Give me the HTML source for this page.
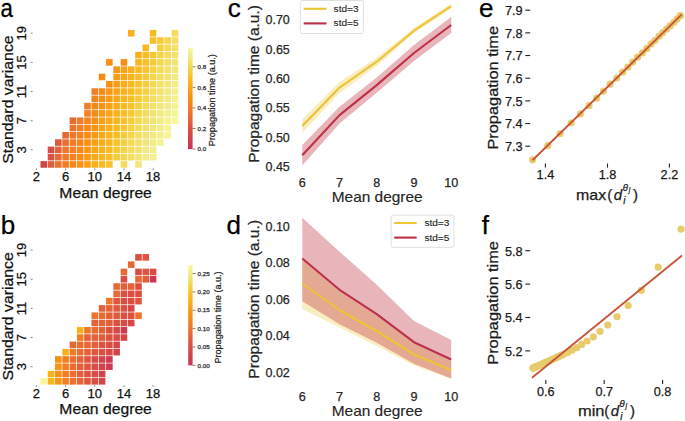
<!DOCTYPE html>
<html><head><meta charset="utf-8"><style>
html,body{margin:0;padding:0;background:#fff;}
svg{display:block;font-family:"Liberation Sans", sans-serif;}
text{stroke:currentColor;stroke-width:0.25px;}
</style></head><body>
<svg width="685" height="421" viewBox="0 0 685 421">
<rect width="685" height="421" fill="#fff"/>
<text x="0.8" y="233.7" font-size="26" text-anchor="start" fill="#000" color="#000">b</text>
<text x="227.7" y="17.4" font-size="26" text-anchor="start" fill="#000" color="#000">c</text>
<text x="226.6" y="233.6" font-size="26" text-anchor="start" fill="#000" color="#000">d</text>
<text x="479" y="17.2" font-size="26" text-anchor="start" fill="#000" color="#000">e</text>
<text x="481.8" y="233.5" font-size="26" text-anchor="start" fill="#000" color="#000">f</text>
<text x="0" y="0" font-size="26" fill="#000" color="#000" transform="translate(0.6 17.0) scale(0.86 1)">a</text>
<rect x="40.45" y="161.15" width="6.59" height="6.59" fill="#d54548"/>
<rect x="47.73" y="161.15" width="6.59" height="6.59" fill="#e25d3a"/>
<rect x="55.03" y="161.15" width="6.59" height="6.59" fill="#eb712e"/>
<rect x="62.31" y="161.15" width="6.59" height="6.59" fill="#f17e24"/>
<rect x="69.61" y="161.15" width="6.59" height="6.59" fill="#f5871a"/>
<rect x="76.89" y="161.15" width="6.59" height="6.59" fill="#f89313"/>
<rect x="84.19" y="161.15" width="6.59" height="6.59" fill="#faa115"/>
<rect x="91.48" y="161.15" width="6.59" height="6.59" fill="#faaf1b"/>
<rect x="98.77" y="161.15" width="6.59" height="6.59" fill="#f9ba21"/>
<rect x="106.06" y="161.15" width="6.59" height="6.59" fill="#f8c42d"/>
<rect x="120.64" y="161.15" width="6.59" height="6.59" fill="#f4db59"/>
<rect x="135.21" y="161.15" width="6.59" height="6.59" fill="#f1e77c"/>
<rect x="47.73" y="153.86" width="6.59" height="6.59" fill="#dd523f"/>
<rect x="55.03" y="153.86" width="6.59" height="6.59" fill="#e86933"/>
<rect x="62.31" y="153.86" width="6.59" height="6.59" fill="#ef7928"/>
<rect x="69.61" y="153.86" width="6.59" height="6.59" fill="#f3831e"/>
<rect x="76.89" y="153.86" width="6.59" height="6.59" fill="#f88d13"/>
<rect x="84.19" y="153.86" width="6.59" height="6.59" fill="#f99c14"/>
<rect x="91.48" y="153.86" width="6.59" height="6.59" fill="#faaa18"/>
<rect x="98.77" y="153.86" width="6.59" height="6.59" fill="#f9b61f"/>
<rect x="106.06" y="153.86" width="6.59" height="6.59" fill="#f8c028"/>
<rect x="113.34" y="153.86" width="6.59" height="6.59" fill="#f7cb39"/>
<rect x="120.64" y="153.86" width="6.59" height="6.59" fill="#f5d74e"/>
<rect x="127.92" y="153.86" width="6.59" height="6.59" fill="#f3df64"/>
<rect x="135.21" y="153.86" width="6.59" height="6.59" fill="#f2e576"/>
<rect x="142.50" y="153.86" width="6.59" height="6.59" fill="#f2eb86"/>
<rect x="149.79" y="153.86" width="6.59" height="6.59" fill="#f5f190"/>
<rect x="47.73" y="146.57" width="6.59" height="6.59" fill="#d84a45"/>
<rect x="55.03" y="146.57" width="6.59" height="6.59" fill="#e46238"/>
<rect x="62.31" y="146.57" width="6.59" height="6.59" fill="#ec742c"/>
<rect x="69.61" y="146.57" width="6.59" height="6.59" fill="#f28022"/>
<rect x="76.89" y="146.57" width="6.59" height="6.59" fill="#f68917"/>
<rect x="84.19" y="146.57" width="6.59" height="6.59" fill="#f99613"/>
<rect x="91.48" y="146.57" width="6.59" height="6.59" fill="#faa516"/>
<rect x="98.77" y="146.57" width="6.59" height="6.59" fill="#f9b11c"/>
<rect x="106.06" y="146.57" width="6.59" height="6.59" fill="#f9bc22"/>
<rect x="113.34" y="146.57" width="6.59" height="6.59" fill="#f7c632"/>
<rect x="120.64" y="146.57" width="6.59" height="6.59" fill="#f5d345"/>
<rect x="127.92" y="146.57" width="6.59" height="6.59" fill="#f4dc5e"/>
<rect x="135.21" y="146.57" width="6.59" height="6.59" fill="#f2e26f"/>
<rect x="142.50" y="146.57" width="6.59" height="6.59" fill="#f1e982"/>
<rect x="149.79" y="146.57" width="6.59" height="6.59" fill="#f4ef8c"/>
<rect x="55.03" y="139.28" width="6.59" height="6.59" fill="#e0593c"/>
<rect x="62.31" y="139.28" width="6.59" height="6.59" fill="#ea6e30"/>
<rect x="69.61" y="139.28" width="6.59" height="6.59" fill="#f07c26"/>
<rect x="76.89" y="139.28" width="6.59" height="6.59" fill="#f4861b"/>
<rect x="84.19" y="139.28" width="6.59" height="6.59" fill="#f89112"/>
<rect x="91.48" y="139.28" width="6.59" height="6.59" fill="#f99f15"/>
<rect x="98.77" y="139.28" width="6.59" height="6.59" fill="#faad1a"/>
<rect x="106.06" y="139.28" width="6.59" height="6.59" fill="#f9b820"/>
<rect x="113.34" y="139.28" width="6.59" height="6.59" fill="#f8c22b"/>
<rect x="120.64" y="139.28" width="6.59" height="6.59" fill="#f6ce3e"/>
<rect x="127.92" y="139.28" width="6.59" height="6.59" fill="#f4da55"/>
<rect x="135.21" y="139.28" width="6.59" height="6.59" fill="#f3e068"/>
<rect x="142.50" y="139.28" width="6.59" height="6.59" fill="#f2e67a"/>
<rect x="149.79" y="139.28" width="6.59" height="6.59" fill="#f3ed88"/>
<rect x="157.08" y="139.28" width="6.59" height="6.59" fill="#f6f393"/>
<rect x="62.31" y="131.99" width="6.59" height="6.59" fill="#e66735"/>
<rect x="69.61" y="131.99" width="6.59" height="6.59" fill="#ee7729"/>
<rect x="76.89" y="131.99" width="6.59" height="6.59" fill="#f3821f"/>
<rect x="84.19" y="131.99" width="6.59" height="6.59" fill="#f78c14"/>
<rect x="91.48" y="131.99" width="6.59" height="6.59" fill="#f99a14"/>
<rect x="98.77" y="131.99" width="6.59" height="6.59" fill="#faa817"/>
<rect x="106.06" y="131.99" width="6.59" height="6.59" fill="#f9b41e"/>
<rect x="113.34" y="131.99" width="6.59" height="6.59" fill="#f9be25"/>
<rect x="120.64" y="131.99" width="6.59" height="6.59" fill="#f7ca37"/>
<rect x="127.92" y="131.99" width="6.59" height="6.59" fill="#f5d64a"/>
<rect x="135.21" y="131.99" width="6.59" height="6.59" fill="#f3de62"/>
<rect x="142.50" y="131.99" width="6.59" height="6.59" fill="#f2e473"/>
<rect x="149.79" y="131.99" width="6.59" height="6.59" fill="#f2ea84"/>
<rect x="157.08" y="131.99" width="6.59" height="6.59" fill="#f4f08f"/>
<rect x="164.38" y="131.99" width="6.59" height="6.59" fill="#f7f597"/>
<rect x="69.61" y="124.70" width="6.59" height="6.59" fill="#ec722d"/>
<rect x="76.89" y="124.70" width="6.59" height="6.59" fill="#f17f23"/>
<rect x="84.19" y="124.70" width="6.59" height="6.59" fill="#f58819"/>
<rect x="91.48" y="124.70" width="6.59" height="6.59" fill="#f99413"/>
<rect x="98.77" y="124.70" width="6.59" height="6.59" fill="#faa315"/>
<rect x="106.06" y="124.70" width="6.59" height="6.59" fill="#fab01b"/>
<rect x="113.34" y="124.70" width="6.59" height="6.59" fill="#f9bb21"/>
<rect x="120.64" y="124.70" width="6.59" height="6.59" fill="#f8c52f"/>
<rect x="127.92" y="124.70" width="6.59" height="6.59" fill="#f6d142"/>
<rect x="135.21" y="124.70" width="6.59" height="6.59" fill="#f4dc5b"/>
<rect x="142.50" y="124.70" width="6.59" height="6.59" fill="#f2e26d"/>
<rect x="149.79" y="124.70" width="6.59" height="6.59" fill="#f1e87f"/>
<rect x="157.08" y="124.70" width="6.59" height="6.59" fill="#f3ee8b"/>
<rect x="164.38" y="124.70" width="6.59" height="6.59" fill="#f6f495"/>
<rect x="69.61" y="117.41" width="6.59" height="6.59" fill="#e86b32"/>
<rect x="76.89" y="117.41" width="6.59" height="6.59" fill="#ef7b27"/>
<rect x="84.19" y="117.41" width="6.59" height="6.59" fill="#f4841d"/>
<rect x="91.48" y="117.41" width="6.59" height="6.59" fill="#f88f12"/>
<rect x="98.77" y="117.41" width="6.59" height="6.59" fill="#f99d15"/>
<rect x="106.06" y="117.41" width="6.59" height="6.59" fill="#faab19"/>
<rect x="113.34" y="117.41" width="6.59" height="6.59" fill="#f9b71f"/>
<rect x="120.64" y="117.41" width="6.59" height="6.59" fill="#f8c129"/>
<rect x="127.92" y="117.41" width="6.59" height="6.59" fill="#f6cc3b"/>
<rect x="135.21" y="117.41" width="6.59" height="6.59" fill="#f4d851"/>
<rect x="142.50" y="117.41" width="6.59" height="6.59" fill="#f3df66"/>
<rect x="149.79" y="117.41" width="6.59" height="6.59" fill="#f2e577"/>
<rect x="157.08" y="117.41" width="6.59" height="6.59" fill="#f2ec87"/>
<rect x="164.38" y="117.41" width="6.59" height="6.59" fill="#f5f291"/>
<rect x="171.66" y="117.41" width="6.59" height="6.59" fill="#f7f698"/>
<rect x="84.19" y="110.12" width="6.59" height="6.59" fill="#f28121"/>
<rect x="91.48" y="110.12" width="6.59" height="6.59" fill="#f68a16"/>
<rect x="98.77" y="110.12" width="6.59" height="6.59" fill="#f99814"/>
<rect x="106.06" y="110.12" width="6.59" height="6.59" fill="#faa616"/>
<rect x="113.34" y="110.12" width="6.59" height="6.59" fill="#f9b31d"/>
<rect x="120.64" y="110.12" width="6.59" height="6.59" fill="#f9bd23"/>
<rect x="127.92" y="110.12" width="6.59" height="6.59" fill="#f7c834"/>
<rect x="135.21" y="110.12" width="6.59" height="6.59" fill="#f5d447"/>
<rect x="142.50" y="110.12" width="6.59" height="6.59" fill="#f3dd5f"/>
<rect x="149.79" y="110.12" width="6.59" height="6.59" fill="#f2e371"/>
<rect x="157.08" y="110.12" width="6.59" height="6.59" fill="#f1ea83"/>
<rect x="164.38" y="110.12" width="6.59" height="6.59" fill="#f4f08d"/>
<rect x="171.66" y="110.12" width="6.59" height="6.59" fill="#f6f596"/>
<rect x="84.19" y="102.83" width="6.59" height="6.59" fill="#f17d24"/>
<rect x="91.48" y="102.83" width="6.59" height="6.59" fill="#f5861a"/>
<rect x="98.77" y="102.83" width="6.59" height="6.59" fill="#f89213"/>
<rect x="106.06" y="102.83" width="6.59" height="6.59" fill="#faa115"/>
<rect x="113.34" y="102.83" width="6.59" height="6.59" fill="#faae1b"/>
<rect x="120.64" y="102.83" width="6.59" height="6.59" fill="#f9b921"/>
<rect x="127.92" y="102.83" width="6.59" height="6.59" fill="#f8c32d"/>
<rect x="135.21" y="102.83" width="6.59" height="6.59" fill="#f6d040"/>
<rect x="142.50" y="102.83" width="6.59" height="6.59" fill="#f4db58"/>
<rect x="149.79" y="102.83" width="6.59" height="6.59" fill="#f3e16a"/>
<rect x="157.08" y="102.83" width="6.59" height="6.59" fill="#f1e77c"/>
<rect x="164.38" y="102.83" width="6.59" height="6.59" fill="#f3ed89"/>
<rect x="171.66" y="102.83" width="6.59" height="6.59" fill="#f6f394"/>
<rect x="91.48" y="95.54" width="6.59" height="6.59" fill="#f3831e"/>
<rect x="98.77" y="95.54" width="6.59" height="6.59" fill="#f88d13"/>
<rect x="106.06" y="95.54" width="6.59" height="6.59" fill="#f99b14"/>
<rect x="113.34" y="95.54" width="6.59" height="6.59" fill="#faa918"/>
<rect x="120.64" y="95.54" width="6.59" height="6.59" fill="#f9b51e"/>
<rect x="127.92" y="95.54" width="6.59" height="6.59" fill="#f8bf27"/>
<rect x="135.21" y="95.54" width="6.59" height="6.59" fill="#f7cb38"/>
<rect x="142.50" y="95.54" width="6.59" height="6.59" fill="#f5d74d"/>
<rect x="149.79" y="95.54" width="6.59" height="6.59" fill="#f3de63"/>
<rect x="157.08" y="95.54" width="6.59" height="6.59" fill="#f2e475"/>
<rect x="164.38" y="95.54" width="6.59" height="6.59" fill="#f2eb85"/>
<rect x="171.66" y="95.54" width="6.59" height="6.59" fill="#f5f190"/>
<rect x="91.48" y="88.25" width="6.59" height="6.59" fill="#f28022"/>
<rect x="98.77" y="88.25" width="6.59" height="6.59" fill="#f68918"/>
<rect x="106.06" y="88.25" width="6.59" height="6.59" fill="#f99613"/>
<rect x="113.34" y="88.25" width="6.59" height="6.59" fill="#faa416"/>
<rect x="120.64" y="88.25" width="6.59" height="6.59" fill="#fab11c"/>
<rect x="127.92" y="88.25" width="6.59" height="6.59" fill="#f9bc22"/>
<rect x="135.21" y="88.25" width="6.59" height="6.59" fill="#f7c631"/>
<rect x="142.50" y="88.25" width="6.59" height="6.59" fill="#f5d244"/>
<rect x="149.79" y="88.25" width="6.59" height="6.59" fill="#f4dc5d"/>
<rect x="157.08" y="88.25" width="6.59" height="6.59" fill="#f2e26e"/>
<rect x="164.38" y="88.25" width="6.59" height="6.59" fill="#f1e981"/>
<rect x="171.66" y="88.25" width="6.59" height="6.59" fill="#f4ef8c"/>
<rect x="106.06" y="80.96" width="6.59" height="6.59" fill="#f89012"/>
<rect x="113.34" y="80.96" width="6.59" height="6.59" fill="#f99f15"/>
<rect x="120.64" y="80.96" width="6.59" height="6.59" fill="#faac1a"/>
<rect x="127.92" y="80.96" width="6.59" height="6.59" fill="#f9b820"/>
<rect x="135.21" y="80.96" width="6.59" height="6.59" fill="#f8c22b"/>
<rect x="142.50" y="80.96" width="6.59" height="6.59" fill="#f6ce3d"/>
<rect x="149.79" y="80.96" width="6.59" height="6.59" fill="#f4d954"/>
<rect x="157.08" y="80.96" width="6.59" height="6.59" fill="#f3e068"/>
<rect x="164.38" y="80.96" width="6.59" height="6.59" fill="#f2e679"/>
<rect x="171.66" y="80.96" width="6.59" height="6.59" fill="#f3ec88"/>
<rect x="98.77" y="73.67" width="6.59" height="6.59" fill="#f78c14"/>
<rect x="113.34" y="73.67" width="6.59" height="6.59" fill="#f99914"/>
<rect x="120.64" y="73.67" width="6.59" height="6.59" fill="#faa717"/>
<rect x="127.92" y="73.67" width="6.59" height="6.59" fill="#f9b41d"/>
<rect x="135.21" y="73.67" width="6.59" height="6.59" fill="#f9be25"/>
<rect x="142.50" y="73.67" width="6.59" height="6.59" fill="#f7c936"/>
<rect x="149.79" y="73.67" width="6.59" height="6.59" fill="#f5d549"/>
<rect x="157.08" y="73.67" width="6.59" height="6.59" fill="#f3de61"/>
<rect x="164.38" y="73.67" width="6.59" height="6.59" fill="#f2e472"/>
<rect x="171.66" y="73.67" width="6.59" height="6.59" fill="#f2ea84"/>
<rect x="113.34" y="66.38" width="6.59" height="6.59" fill="#f89413"/>
<rect x="120.64" y="66.38" width="6.59" height="6.59" fill="#faa215"/>
<rect x="127.92" y="66.38" width="6.59" height="6.59" fill="#faaf1b"/>
<rect x="135.21" y="66.38" width="6.59" height="6.59" fill="#f9ba21"/>
<rect x="142.50" y="66.38" width="6.59" height="6.59" fill="#f8c42f"/>
<rect x="149.79" y="66.38" width="6.59" height="6.59" fill="#f6d142"/>
<rect x="157.08" y="66.38" width="6.59" height="6.59" fill="#f4db5a"/>
<rect x="164.38" y="66.38" width="6.59" height="6.59" fill="#f3e16c"/>
<rect x="171.66" y="66.38" width="6.59" height="6.59" fill="#f1e77e"/>
<rect x="106.06" y="59.09" width="6.59" height="6.59" fill="#f88e12"/>
<rect x="120.64" y="59.09" width="6.59" height="6.59" fill="#f88e12"/>
<rect x="135.21" y="59.09" width="6.59" height="6.59" fill="#f9b61f"/>
<rect x="142.50" y="59.09" width="6.59" height="6.59" fill="#f8c029"/>
<rect x="149.79" y="59.09" width="6.59" height="6.59" fill="#f6cc3a"/>
<rect x="157.08" y="59.09" width="6.59" height="6.59" fill="#f4d850"/>
<rect x="164.38" y="59.09" width="6.59" height="6.59" fill="#f3df65"/>
<rect x="171.66" y="59.09" width="6.59" height="6.59" fill="#f2e577"/>
<rect x="135.21" y="51.80" width="6.59" height="6.59" fill="#f9b21d"/>
<rect x="142.50" y="51.80" width="6.59" height="6.59" fill="#f9bc23"/>
<rect x="149.79" y="51.80" width="6.59" height="6.59" fill="#f7c733"/>
<rect x="157.08" y="51.80" width="6.59" height="6.59" fill="#f5d446"/>
<rect x="164.38" y="51.80" width="6.59" height="6.59" fill="#f3dd5f"/>
<rect x="171.66" y="51.80" width="6.59" height="6.59" fill="#f2e370"/>
<rect x="142.50" y="44.51" width="6.59" height="6.59" fill="#f9b920"/>
<rect x="157.08" y="44.51" width="6.59" height="6.59" fill="#f6cf3f"/>
<rect x="164.38" y="44.51" width="6.59" height="6.59" fill="#f4da57"/>
<rect x="171.66" y="44.51" width="6.59" height="6.59" fill="#f3e169"/>
<rect x="149.79" y="37.22" width="6.59" height="6.59" fill="#f9bf26"/>
<rect x="157.08" y="37.22" width="6.59" height="6.59" fill="#f7ca38"/>
<rect x="164.38" y="37.22" width="6.59" height="6.59" fill="#f5d64c"/>
<rect x="171.66" y="37.22" width="6.59" height="6.59" fill="#f3de63"/>
<rect x="127.92" y="29.93" width="6.59" height="6.59" fill="#faaf1b"/>
<rect x="149.79" y="29.93" width="6.59" height="6.59" fill="#f9bb22"/>
<rect x="171.66" y="29.93" width="6.59" height="6.59" fill="#f4dc5c"/>
<rect x="40.45" y="378.01" width="6.59" height="6.59" fill="#f8f89c"/>
<rect x="47.73" y="378.01" width="6.59" height="6.59" fill="#f9b51e"/>
<rect x="55.03" y="378.01" width="6.59" height="6.59" fill="#f99513"/>
<rect x="62.31" y="378.01" width="6.59" height="6.59" fill="#f28022"/>
<rect x="69.61" y="378.01" width="6.59" height="6.59" fill="#eb712e"/>
<rect x="76.89" y="378.01" width="6.59" height="6.59" fill="#e66636"/>
<rect x="84.19" y="378.01" width="6.59" height="6.59" fill="#df573d"/>
<rect x="91.48" y="378.01" width="6.59" height="6.59" fill="#da4d42"/>
<rect x="98.77" y="378.01" width="6.59" height="6.59" fill="#d54548"/>
<rect x="47.73" y="370.72" width="6.59" height="6.59" fill="#fab11c"/>
<rect x="55.03" y="370.72" width="6.59" height="6.59" fill="#f88e12"/>
<rect x="62.31" y="370.72" width="6.59" height="6.59" fill="#f17e24"/>
<rect x="69.61" y="370.72" width="6.59" height="6.59" fill="#ea6f30"/>
<rect x="76.89" y="370.72" width="6.59" height="6.59" fill="#e35f39"/>
<rect x="84.19" y="370.72" width="6.59" height="6.59" fill="#dd523f"/>
<rect x="91.48" y="370.72" width="6.59" height="6.59" fill="#d94b44"/>
<rect x="98.77" y="370.72" width="6.59" height="6.59" fill="#d3424b"/>
<rect x="55.03" y="363.43" width="6.59" height="6.59" fill="#f89313"/>
<rect x="62.31" y="363.43" width="6.59" height="6.59" fill="#f28022"/>
<rect x="69.61" y="363.43" width="6.59" height="6.59" fill="#e96d31"/>
<rect x="76.89" y="363.43" width="6.59" height="6.59" fill="#e35f39"/>
<rect x="84.19" y="363.43" width="6.59" height="6.59" fill="#de543e"/>
<rect x="91.48" y="363.43" width="6.59" height="6.59" fill="#d94b44"/>
<rect x="98.77" y="363.43" width="6.59" height="6.59" fill="#d4434a"/>
<rect x="106.06" y="363.43" width="6.59" height="6.59" fill="#ce3b52"/>
<rect x="55.03" y="356.14" width="6.59" height="6.59" fill="#f88e12"/>
<rect x="62.31" y="356.14" width="6.59" height="6.59" fill="#f17e24"/>
<rect x="69.61" y="356.14" width="6.59" height="6.59" fill="#ea6f30"/>
<rect x="76.89" y="356.14" width="6.59" height="6.59" fill="#e46238"/>
<rect x="84.19" y="356.14" width="6.59" height="6.59" fill="#de543e"/>
<rect x="91.48" y="356.14" width="6.59" height="6.59" fill="#d94b44"/>
<rect x="98.77" y="356.14" width="6.59" height="6.59" fill="#d4434a"/>
<rect x="106.06" y="356.14" width="6.59" height="6.59" fill="#ce3b52"/>
<rect x="62.31" y="348.85" width="6.59" height="6.59" fill="#fab11c"/>
<rect x="69.61" y="348.85" width="6.59" height="6.59" fill="#f07c26"/>
<rect x="76.89" y="348.85" width="6.59" height="6.59" fill="#e96d31"/>
<rect x="84.19" y="348.85" width="6.59" height="6.59" fill="#e46238"/>
<rect x="91.48" y="348.85" width="6.59" height="6.59" fill="#e0593c"/>
<rect x="98.77" y="348.85" width="6.59" height="6.59" fill="#dc5040"/>
<rect x="106.06" y="348.85" width="6.59" height="6.59" fill="#d84a45"/>
<rect x="113.34" y="348.85" width="6.59" height="6.59" fill="#d4434a"/>
<rect x="69.61" y="341.56" width="6.59" height="6.59" fill="#e66636"/>
<rect x="76.89" y="341.56" width="6.59" height="6.59" fill="#e96d31"/>
<rect x="84.19" y="341.56" width="6.59" height="6.59" fill="#e76834"/>
<rect x="91.48" y="341.56" width="6.59" height="6.59" fill="#e35f39"/>
<rect x="98.77" y="341.56" width="6.59" height="6.59" fill="#dd523f"/>
<rect x="106.06" y="341.56" width="6.59" height="6.59" fill="#da4d42"/>
<rect x="113.34" y="341.56" width="6.59" height="6.59" fill="#d64647"/>
<rect x="76.89" y="334.27" width="6.59" height="6.59" fill="#f17e24"/>
<rect x="84.19" y="334.27" width="6.59" height="6.59" fill="#e46238"/>
<rect x="91.48" y="334.27" width="6.59" height="6.59" fill="#e46238"/>
<rect x="98.77" y="334.27" width="6.59" height="6.59" fill="#e25d3a"/>
<rect x="106.06" y="334.27" width="6.59" height="6.59" fill="#dc5040"/>
<rect x="113.34" y="334.27" width="6.59" height="6.59" fill="#d94b44"/>
<rect x="120.64" y="334.27" width="6.59" height="6.59" fill="#d64647"/>
<rect x="76.89" y="326.98" width="6.59" height="6.59" fill="#fab11c"/>
<rect x="84.19" y="326.98" width="6.59" height="6.59" fill="#ee7829"/>
<rect x="91.48" y="326.98" width="6.59" height="6.59" fill="#e96d31"/>
<rect x="98.77" y="326.98" width="6.59" height="6.59" fill="#e46238"/>
<rect x="106.06" y="326.98" width="6.59" height="6.59" fill="#dc5040"/>
<rect x="113.34" y="326.98" width="6.59" height="6.59" fill="#d74846"/>
<rect x="120.64" y="326.98" width="6.59" height="6.59" fill="#cd3a53"/>
<rect x="91.48" y="319.69" width="6.59" height="6.59" fill="#e46238"/>
<rect x="98.77" y="319.69" width="6.59" height="6.59" fill="#e46238"/>
<rect x="106.06" y="319.69" width="6.59" height="6.59" fill="#e25d3a"/>
<rect x="113.34" y="319.69" width="6.59" height="6.59" fill="#dc5040"/>
<rect x="120.64" y="319.69" width="6.59" height="6.59" fill="#d94b44"/>
<rect x="127.92" y="319.69" width="6.59" height="6.59" fill="#d74846"/>
<rect x="91.48" y="312.40" width="6.59" height="6.59" fill="#ed752b"/>
<rect x="98.77" y="312.40" width="6.59" height="6.59" fill="#e96d31"/>
<rect x="106.06" y="312.40" width="6.59" height="6.59" fill="#e46238"/>
<rect x="113.34" y="312.40" width="6.59" height="6.59" fill="#e0593c"/>
<rect x="120.64" y="312.40" width="6.59" height="6.59" fill="#db4e41"/>
<rect x="127.92" y="312.40" width="6.59" height="6.59" fill="#dc5040"/>
<rect x="135.21" y="312.40" width="6.59" height="6.59" fill="#ed752b"/>
<rect x="98.77" y="305.11" width="6.59" height="6.59" fill="#e46238"/>
<rect x="106.06" y="305.11" width="6.59" height="6.59" fill="#e56437"/>
<rect x="113.34" y="305.11" width="6.59" height="6.59" fill="#e0593c"/>
<rect x="120.64" y="305.11" width="6.59" height="6.59" fill="#db4e41"/>
<rect x="127.92" y="305.11" width="6.59" height="6.59" fill="#d74846"/>
<rect x="106.06" y="297.82" width="6.59" height="6.59" fill="#ee7829"/>
<rect x="113.34" y="297.82" width="6.59" height="6.59" fill="#de543e"/>
<rect x="120.64" y="297.82" width="6.59" height="6.59" fill="#db4e41"/>
<rect x="127.92" y="297.82" width="6.59" height="6.59" fill="#db4e41"/>
<rect x="135.21" y="297.82" width="6.59" height="6.59" fill="#de543e"/>
<rect x="113.34" y="290.53" width="6.59" height="6.59" fill="#e86a33"/>
<rect x="120.64" y="290.53" width="6.59" height="6.59" fill="#db4e41"/>
<rect x="127.92" y="290.53" width="6.59" height="6.59" fill="#db4e41"/>
<rect x="135.21" y="290.53" width="6.59" height="6.59" fill="#db4e41"/>
<rect x="113.34" y="283.24" width="6.59" height="6.59" fill="#e76834"/>
<rect x="120.64" y="283.24" width="6.59" height="6.59" fill="#e35f39"/>
<rect x="127.92" y="283.24" width="6.59" height="6.59" fill="#e56437"/>
<rect x="135.21" y="283.24" width="6.59" height="6.59" fill="#dc5040"/>
<rect x="120.64" y="275.95" width="6.59" height="6.59" fill="#d94b44"/>
<rect x="135.21" y="275.95" width="6.59" height="6.59" fill="#e76834"/>
<rect x="142.50" y="275.95" width="6.59" height="6.59" fill="#e25d3a"/>
<rect x="149.79" y="275.95" width="6.59" height="6.59" fill="#cb3856"/>
<rect x="120.64" y="268.66" width="6.59" height="6.59" fill="#e76834"/>
<rect x="135.21" y="268.66" width="6.59" height="6.59" fill="#d94b44"/>
<rect x="142.50" y="268.66" width="6.59" height="6.59" fill="#de543e"/>
<rect x="149.79" y="268.66" width="6.59" height="6.59" fill="#d94b44"/>
<rect x="127.92" y="261.37" width="6.59" height="6.59" fill="#e76834"/>
<rect x="135.21" y="254.07" width="6.59" height="6.59" fill="#dc5040"/>
<rect x="142.50" y="254.07" width="6.59" height="6.59" fill="#de543e"/>
<line x1="30.6" y1="149.87" x2="32.6" y2="149.87" stroke="#555" stroke-width="0.7"/>
<text x="26.2" y="149.86999999999998" font-size="13" text-anchor="middle" fill="#111" color="#111" transform="rotate(-90 26.2 149.86999999999998)">3</text>
<line x1="30.6" y1="120.71" x2="32.6" y2="120.71" stroke="#555" stroke-width="0.7"/>
<text x="26.2" y="120.70999999999998" font-size="13" text-anchor="middle" fill="#111" color="#111" transform="rotate(-90 26.2 120.70999999999998)">7</text>
<line x1="30.6" y1="91.55" x2="32.6" y2="91.55" stroke="#555" stroke-width="0.7"/>
<text x="26.2" y="91.54999999999998" font-size="13" text-anchor="middle" fill="#111" color="#111" transform="rotate(-90 26.2 91.54999999999998)">11</text>
<line x1="30.6" y1="62.39" x2="32.6" y2="62.39" stroke="#555" stroke-width="0.7"/>
<text x="26.2" y="62.389999999999986" font-size="13" text-anchor="middle" fill="#111" color="#111" transform="rotate(-90 26.2 62.389999999999986)">15</text>
<line x1="30.6" y1="33.23" x2="32.6" y2="33.23" stroke="#555" stroke-width="0.7"/>
<text x="26.2" y="33.22999999999999" font-size="13" text-anchor="middle" fill="#111" color="#111" transform="rotate(-90 26.2 33.22999999999999)">19</text>
<line x1="36.45" y1="168.30" x2="36.45" y2="170.10" stroke="#555" stroke-width="0.7"/>
<text x="36.45" y="181.3" font-size="13" text-anchor="middle" fill="#111" color="#111">2</text>
<line x1="65.61" y1="168.30" x2="65.61" y2="170.10" stroke="#555" stroke-width="0.7"/>
<text x="65.61" y="181.3" font-size="13" text-anchor="middle" fill="#111" color="#111">6</text>
<line x1="94.77" y1="168.30" x2="94.77" y2="170.10" stroke="#555" stroke-width="0.7"/>
<text x="94.77" y="181.3" font-size="13" text-anchor="middle" fill="#111" color="#111">10</text>
<line x1="123.93" y1="168.30" x2="123.93" y2="170.10" stroke="#555" stroke-width="0.7"/>
<text x="123.93" y="181.3" font-size="13" text-anchor="middle" fill="#111" color="#111">14</text>
<line x1="153.09" y1="168.30" x2="153.09" y2="170.10" stroke="#555" stroke-width="0.7"/>
<text x="153.09" y="181.3" font-size="13" text-anchor="middle" fill="#111" color="#111">18</text>
<text x="105.6" y="197.6" font-size="15.0" text-anchor="middle" fill="#111" color="#111" textLength="92.5" lengthAdjust="spacingAndGlyphs">Mean degree</text>
<text x="13.2" y="99.6" font-size="15.2" text-anchor="middle" fill="#111" color="#111" transform="rotate(-90 13.2 99.6)" textLength="128.4" lengthAdjust="spacingAndGlyphs">Standard variance</text>
<line x1="30.6" y1="366.72" x2="32.6" y2="366.72" stroke="#555" stroke-width="0.7"/>
<text x="26.2" y="366.72" font-size="13" text-anchor="middle" fill="#111" color="#111" transform="rotate(-90 26.2 366.72)">3</text>
<line x1="30.6" y1="337.56" x2="32.6" y2="337.56" stroke="#555" stroke-width="0.7"/>
<text x="26.2" y="337.56" font-size="13" text-anchor="middle" fill="#111" color="#111" transform="rotate(-90 26.2 337.56)">7</text>
<line x1="30.6" y1="308.40" x2="32.6" y2="308.40" stroke="#555" stroke-width="0.7"/>
<text x="26.2" y="308.4" font-size="13" text-anchor="middle" fill="#111" color="#111" transform="rotate(-90 26.2 308.4)">11</text>
<line x1="30.6" y1="279.24" x2="32.6" y2="279.24" stroke="#555" stroke-width="0.7"/>
<text x="26.2" y="279.24" font-size="13" text-anchor="middle" fill="#111" color="#111" transform="rotate(-90 26.2 279.24)">15</text>
<line x1="30.6" y1="250.08" x2="32.6" y2="250.08" stroke="#555" stroke-width="0.7"/>
<text x="26.2" y="250.08" font-size="13" text-anchor="middle" fill="#111" color="#111" transform="rotate(-90 26.2 250.08)">19</text>
<line x1="36.45" y1="385.10" x2="36.45" y2="386.90" stroke="#555" stroke-width="0.7"/>
<text x="36.45" y="398.1" font-size="13" text-anchor="middle" fill="#111" color="#111">2</text>
<line x1="65.61" y1="385.10" x2="65.61" y2="386.90" stroke="#555" stroke-width="0.7"/>
<text x="65.61" y="398.1" font-size="13" text-anchor="middle" fill="#111" color="#111">6</text>
<line x1="94.77" y1="385.10" x2="94.77" y2="386.90" stroke="#555" stroke-width="0.7"/>
<text x="94.77" y="398.1" font-size="13" text-anchor="middle" fill="#111" color="#111">10</text>
<line x1="123.93" y1="385.10" x2="123.93" y2="386.90" stroke="#555" stroke-width="0.7"/>
<text x="123.93" y="398.1" font-size="13" text-anchor="middle" fill="#111" color="#111">14</text>
<line x1="153.09" y1="385.10" x2="153.09" y2="386.90" stroke="#555" stroke-width="0.7"/>
<text x="153.09" y="398.1" font-size="13" text-anchor="middle" fill="#111" color="#111">18</text>
<text x="105.6" y="414.4" font-size="15.0" text-anchor="middle" fill="#111" color="#111" textLength="92.5" lengthAdjust="spacingAndGlyphs">Mean degree</text>
<text x="13.2" y="316.4" font-size="15.2" text-anchor="middle" fill="#111" color="#111" transform="rotate(-90 13.2 316.4)" textLength="128.4" lengthAdjust="spacingAndGlyphs">Standard variance</text>
<defs><linearGradient id="cb" x1="0" y1="1" x2="0" y2="0"><stop offset="0.0" stop-color="#c8345a"/><stop offset="0.1" stop-color="#d2404c"/><stop offset="0.2" stop-color="#dc5040"/><stop offset="0.3" stop-color="#e66636"/><stop offset="0.4" stop-color="#f07c26"/><stop offset="0.5" stop-color="#f88e12"/><stop offset="0.6" stop-color="#faa616"/><stop offset="0.7" stop-color="#f9bc22"/><stop offset="0.8" stop-color="#f5d548"/><stop offset="0.9" stop-color="#f1e982"/><stop offset="1.0" stop-color="#f8f89c"/></linearGradient></defs>
<rect x="188" y="48.1" width="4.6" height="101" fill="url(#cb)"/>
<line x1="192.6" y1="149.10" x2="195.6" y2="149.10" stroke="#333" stroke-width="0.6"/>
<text x="197.6" y="151.25" font-size="6.2" text-anchor="start" fill="#262626" color="#262626">0.0</text>
<line x1="192.6" y1="128.52" x2="195.6" y2="128.52" stroke="#333" stroke-width="0.6"/>
<text x="197.6" y="130.67" font-size="6.2" text-anchor="start" fill="#262626" color="#262626">0.2</text>
<line x1="192.6" y1="107.94" x2="195.6" y2="107.94" stroke="#333" stroke-width="0.6"/>
<text x="197.6" y="110.09" font-size="6.2" text-anchor="start" fill="#262626" color="#262626">0.4</text>
<line x1="192.6" y1="87.36" x2="195.6" y2="87.36" stroke="#333" stroke-width="0.6"/>
<text x="197.6" y="89.50999999999999" font-size="6.2" text-anchor="start" fill="#262626" color="#262626">0.6</text>
<line x1="192.6" y1="66.78" x2="195.6" y2="66.78" stroke="#333" stroke-width="0.6"/>
<text x="197.6" y="68.92999999999999" font-size="6.2" text-anchor="start" fill="#262626" color="#262626">0.8</text>
<text x="215.2" y="100.2" font-size="9.2" text-anchor="middle" fill="#262626" color="#262626" transform="rotate(-90 215.2 100.2)" textLength="92" lengthAdjust="spacingAndGlyphs">Propagation time (a.u.)</text>
<rect x="188.2" y="265.1" width="4.4" height="100.3" fill="url(#cb)"/>
<line x1="192.6" y1="365.40" x2="195.6" y2="365.40" stroke="#333" stroke-width="0.6"/>
<text x="197.6" y="367.54999999999995" font-size="6.2" text-anchor="start" fill="#262626" color="#262626">0.00</text>
<line x1="192.6" y1="347.02" x2="195.6" y2="347.02" stroke="#333" stroke-width="0.6"/>
<text x="197.6" y="349.16999999999996" font-size="6.2" text-anchor="start" fill="#262626" color="#262626">0.05</text>
<line x1="192.6" y1="328.64" x2="195.6" y2="328.64" stroke="#333" stroke-width="0.6"/>
<text x="197.6" y="330.78999999999996" font-size="6.2" text-anchor="start" fill="#262626" color="#262626">0.10</text>
<line x1="192.6" y1="310.26" x2="195.6" y2="310.26" stroke="#333" stroke-width="0.6"/>
<text x="197.6" y="312.40999999999997" font-size="6.2" text-anchor="start" fill="#262626" color="#262626">0.15</text>
<line x1="192.6" y1="291.88" x2="195.6" y2="291.88" stroke="#333" stroke-width="0.6"/>
<text x="197.6" y="294.03" font-size="6.2" text-anchor="start" fill="#262626" color="#262626">0.20</text>
<line x1="192.6" y1="273.50" x2="195.6" y2="273.50" stroke="#333" stroke-width="0.6"/>
<text x="197.6" y="275.65" font-size="6.2" text-anchor="start" fill="#262626" color="#262626">0.25</text>
<text x="221.0" y="317.5" font-size="9.2" text-anchor="middle" fill="#262626" color="#262626" transform="rotate(-90 221.0 317.5)" textLength="92" lengthAdjust="spacingAndGlyphs">Propagation time (a.u.)</text>
<polygon points="302.30,119.00 339.53,82.10 376.75,57.40 413.98,28.10 451.20,3.60 451.20,8.60 413.98,33.30 376.75,66.00 339.53,93.10 302.30,133.00" fill="#ecc534" fill-opacity="0.3"/>
<polygon points="302.30,144.90 339.53,106.80 376.75,77.50 413.98,45.00 451.20,16.90 451.20,33.10 413.98,61.00 376.75,92.70 339.53,123.40 302.30,165.50" fill="#b92a38" fill-opacity="0.35"/>
<polyline points="302.30,126.00 339.53,87.60 376.75,61.70 413.98,30.70 451.20,6.10" fill="none" stroke="#ecc534" stroke-width="2.1" stroke-linejoin="round" stroke-linecap="butt"/>
<polyline points="302.30,155.20 339.53,115.10 376.75,85.10 413.98,53.00 451.20,25.00" fill="none" stroke="#be3049" stroke-width="2.1" stroke-linejoin="round" stroke-linecap="butt"/>
<text x="289.8" y="171.1" font-size="12.4" text-anchor="end" fill="#262626" color="#262626" textLength="24.3" lengthAdjust="spacingAndGlyphs">0.45</text>
<text x="289.8" y="141.7" font-size="12.4" text-anchor="end" fill="#262626" color="#262626" textLength="24.3" lengthAdjust="spacingAndGlyphs">0.50</text>
<text x="289.8" y="112.30000000000001" font-size="12.4" text-anchor="end" fill="#262626" color="#262626" textLength="24.3" lengthAdjust="spacingAndGlyphs">0.55</text>
<text x="289.8" y="82.90000000000002" font-size="12.4" text-anchor="end" fill="#262626" color="#262626" textLength="24.3" lengthAdjust="spacingAndGlyphs">0.60</text>
<text x="289.8" y="53.500000000000014" font-size="12.4" text-anchor="end" fill="#262626" color="#262626" textLength="24.3" lengthAdjust="spacingAndGlyphs">0.65</text>
<text x="289.8" y="24.100000000000005" font-size="12.4" text-anchor="end" fill="#262626" color="#262626" textLength="24.3" lengthAdjust="spacingAndGlyphs">0.70</text>
<text x="302.3" y="186.5" font-size="12.6" text-anchor="middle" fill="#262626" color="#262626">6</text>
<text x="339.53" y="186.5" font-size="12.6" text-anchor="middle" fill="#262626" color="#262626">7</text>
<text x="376.75" y="186.5" font-size="12.6" text-anchor="middle" fill="#262626" color="#262626">8</text>
<text x="413.98" y="186.5" font-size="12.6" text-anchor="middle" fill="#262626" color="#262626">9</text>
<text x="451.2" y="186.5" font-size="12.6" text-anchor="middle" fill="#262626" color="#262626">10</text>
<text x="377.2" y="201.9" font-size="14.6" text-anchor="middle" fill="#262626" color="#262626" textLength="91" lengthAdjust="spacingAndGlyphs" style="stroke-width:0.15px">Mean degree</text>
<text x="259.2" y="83.9" font-size="14.6" text-anchor="middle" fill="#262626" color="#262626" transform="rotate(-90 259.2 83.9)" textLength="157.7" lengthAdjust="spacingAndGlyphs">Propagation time (a.u.)</text>
<rect x="300.3" y="0.5" width="63.1" height="33" rx="2" fill="#fff" fill-opacity="0.8" stroke="#d8d8d8" stroke-width="0.8"/>
<line x1="303.7" y1="8.8" x2="326.5" y2="8.8" stroke="#ecc534" stroke-width="2.1"/>
<line x1="303.7" y1="23.4" x2="326.5" y2="23.4" stroke="#be3049" stroke-width="2.1"/>
<text x="333.6" y="11.9" font-size="9.6" text-anchor="start" fill="#262626" color="#262626" textLength="25" lengthAdjust="spacingAndGlyphs" style="stroke-width:0.12px">std=3</text>
<text x="333.6" y="26.4" font-size="9.6" text-anchor="start" fill="#262626" color="#262626" textLength="25" lengthAdjust="spacingAndGlyphs" style="stroke-width:0.12px">std=5</text>
<polygon points="302.30,258.30 339.53,291.50 376.75,315.50 413.98,342.40 451.20,361.00 451.20,379.00 413.98,365.50 376.75,346.00 339.53,327.50 302.30,308.90" fill="#ecc534" fill-opacity="0.3"/>
<polygon points="302.30,217.80 339.53,251.70 376.75,284.70 413.98,321.00 451.20,339.90 451.20,378.50 413.98,363.70 376.75,342.80 339.53,324.20 302.30,301.20" fill="#b92a38" fill-opacity="0.35"/>
<polyline points="302.30,283.50 339.53,310.00 376.75,331.00 413.98,354.30 451.20,370.20" fill="none" stroke="#ecc534" stroke-width="2.1" stroke-linejoin="round" stroke-linecap="butt"/>
<polyline points="302.30,258.50 339.53,289.80 376.75,314.20 413.98,342.20 451.20,359.50" fill="none" stroke="#be3049" stroke-width="2.1" stroke-linejoin="round" stroke-linecap="butt"/>
<text x="289.8" y="376.7" font-size="12.4" text-anchor="end" fill="#262626" color="#262626" textLength="24.3" lengthAdjust="spacingAndGlyphs">0.02</text>
<text x="289.8" y="340.2" font-size="12.4" text-anchor="end" fill="#262626" color="#262626" textLength="24.3" lengthAdjust="spacingAndGlyphs">0.04</text>
<text x="289.8" y="303.7" font-size="12.4" text-anchor="end" fill="#262626" color="#262626" textLength="24.3" lengthAdjust="spacingAndGlyphs">0.06</text>
<text x="289.8" y="267.2" font-size="12.4" text-anchor="end" fill="#262626" color="#262626" textLength="24.3" lengthAdjust="spacingAndGlyphs">0.08</text>
<text x="289.8" y="230.7" font-size="12.4" text-anchor="end" fill="#262626" color="#262626" textLength="24.3" lengthAdjust="spacingAndGlyphs">0.10</text>
<text x="302.3" y="401.0" font-size="12.6" text-anchor="middle" fill="#262626" color="#262626">6</text>
<text x="339.53" y="401.0" font-size="12.6" text-anchor="middle" fill="#262626" color="#262626">7</text>
<text x="376.75" y="401.0" font-size="12.6" text-anchor="middle" fill="#262626" color="#262626">8</text>
<text x="413.98" y="401.0" font-size="12.6" text-anchor="middle" fill="#262626" color="#262626">9</text>
<text x="451.2" y="401.0" font-size="12.6" text-anchor="middle" fill="#262626" color="#262626">10</text>
<text x="377.2" y="416.4" font-size="14.6" text-anchor="middle" fill="#262626" color="#262626" textLength="91" lengthAdjust="spacingAndGlyphs" style="stroke-width:0.15px">Mean degree</text>
<text x="259.2" y="299.3" font-size="14.6" text-anchor="middle" fill="#262626" color="#262626" transform="rotate(-90 259.2 299.3)" textLength="158.8" lengthAdjust="spacingAndGlyphs">Propagation time (a.u.)</text>
<rect x="391.1" y="215.1" width="62.8" height="32.2" rx="2" fill="#fff" fill-opacity="0.8" stroke="#d8d8d8" stroke-width="0.8"/>
<line x1="394.2" y1="223" x2="416.7" y2="223" stroke="#ecc534" stroke-width="2.1"/>
<line x1="394.2" y1="237.6" x2="416.7" y2="237.6" stroke="#be3049" stroke-width="2.1"/>
<text x="424.4" y="226.4" font-size="9.6" text-anchor="start" fill="#262626" color="#262626" textLength="25" lengthAdjust="spacingAndGlyphs" style="stroke-width:0.12px">std=3</text>
<text x="424.4" y="241.0" font-size="9.6" text-anchor="start" fill="#262626" color="#262626" textLength="25" lengthAdjust="spacingAndGlyphs" style="stroke-width:0.12px">std=5</text>
<circle cx="532.5" cy="159.8" r="3.6" fill="#e8cb6c"/>
<circle cx="547.8" cy="145.7" r="3.6" fill="#e8cb6c"/>
<circle cx="560.2" cy="133.5" r="3.6" fill="#e8cb6c"/>
<circle cx="571.1" cy="123" r="3.6" fill="#e8cb6c"/>
<circle cx="580.4" cy="113.9" r="3.6" fill="#e8cb6c"/>
<circle cx="589" cy="105.7" r="3.6" fill="#e8cb6c"/>
<circle cx="596.7" cy="98.2" r="3.6" fill="#e8cb6c"/>
<circle cx="603.4" cy="91.1" r="3.6" fill="#e8cb6c"/>
<circle cx="610.1" cy="84.1" r="3.6" fill="#e8cb6c"/>
<circle cx="616.8" cy="78" r="3.6" fill="#e8cb6c"/>
<circle cx="622.6" cy="72.2" r="3.6" fill="#e8cb6c"/>
<circle cx="627.9" cy="67.1" r="3.6" fill="#e8cb6c"/>
<circle cx="632.7" cy="62.1" r="3.6" fill="#e8cb6c"/>
<circle cx="637.6" cy="57.2" r="3.6" fill="#e8cb6c"/>
<circle cx="642.4" cy="52.8" r="3.6" fill="#e8cb6c"/>
<circle cx="646.8" cy="48.4" r="3.6" fill="#e8cb6c"/>
<circle cx="651.1" cy="43.9" r="3.6" fill="#e8cb6c"/>
<circle cx="655.1" cy="40.3" r="3.6" fill="#e8cb6c"/>
<circle cx="659" cy="36.2" r="3.6" fill="#e8cb6c"/>
<circle cx="662.8" cy="32.6" r="3.6" fill="#e8cb6c"/>
<circle cx="666.6" cy="29.2" r="3.6" fill="#e8cb6c"/>
<circle cx="670.3" cy="25.7" r="3.6" fill="#e8cb6c"/>
<circle cx="673.7" cy="22.5" r="3.6" fill="#e8cb6c"/>
<circle cx="677.1" cy="19.1" r="3.6" fill="#e8cb6c"/>
<circle cx="680.4" cy="15.7" r="3.6" fill="#e8cb6c"/>
<line x1="532.5" y1="160.3" x2="681.8" y2="14.4" stroke="#c8553a" stroke-width="1.9"/>
<line x1="525.3" y1="146.20" x2="530.2" y2="146.20" stroke="#222" stroke-width="1.1"/>
<text x="522.6" y="151.1" font-size="12.1" text-anchor="end" fill="#1a1a1a" color="#1a1a1a" textLength="17.6" lengthAdjust="spacingAndGlyphs">7.3</text>
<line x1="525.3" y1="123.53" x2="530.2" y2="123.53" stroke="#222" stroke-width="1.1"/>
<text x="522.6" y="128.42999999999998" font-size="12.1" text-anchor="end" fill="#1a1a1a" color="#1a1a1a" textLength="17.6" lengthAdjust="spacingAndGlyphs">7.4</text>
<line x1="525.3" y1="100.86" x2="530.2" y2="100.86" stroke="#222" stroke-width="1.1"/>
<text x="522.6" y="105.75999999999999" font-size="12.1" text-anchor="end" fill="#1a1a1a" color="#1a1a1a" textLength="17.6" lengthAdjust="spacingAndGlyphs">7.5</text>
<line x1="525.3" y1="78.19" x2="530.2" y2="78.19" stroke="#222" stroke-width="1.1"/>
<text x="522.6" y="83.08999999999999" font-size="12.1" text-anchor="end" fill="#1a1a1a" color="#1a1a1a" textLength="17.6" lengthAdjust="spacingAndGlyphs">7.6</text>
<line x1="525.3" y1="55.52" x2="530.2" y2="55.52" stroke="#222" stroke-width="1.1"/>
<text x="522.6" y="60.41999999999998" font-size="12.1" text-anchor="end" fill="#1a1a1a" color="#1a1a1a" textLength="17.6" lengthAdjust="spacingAndGlyphs">7.7</text>
<line x1="525.3" y1="32.85" x2="530.2" y2="32.85" stroke="#222" stroke-width="1.1"/>
<text x="522.6" y="37.74999999999998" font-size="12.1" text-anchor="end" fill="#1a1a1a" color="#1a1a1a" textLength="17.6" lengthAdjust="spacingAndGlyphs">7.8</text>
<line x1="525.3" y1="10.18" x2="530.2" y2="10.18" stroke="#222" stroke-width="1.1"/>
<text x="522.6" y="15.079999999999979" font-size="12.1" text-anchor="end" fill="#1a1a1a" color="#1a1a1a" textLength="17.6" lengthAdjust="spacingAndGlyphs">7.9</text>
<line x1="545.40" y1="163.5" x2="545.40" y2="167.6" stroke="#222" stroke-width="1.1"/>
<text x="545.4" y="178.7" font-size="12.1" text-anchor="middle" fill="#1a1a1a" color="#1a1a1a" textLength="17.6" lengthAdjust="spacingAndGlyphs">1.4</text>
<line x1="607.50" y1="163.5" x2="607.50" y2="167.6" stroke="#222" stroke-width="1.1"/>
<text x="607.5" y="178.7" font-size="12.1" text-anchor="middle" fill="#1a1a1a" color="#1a1a1a" textLength="17.6" lengthAdjust="spacingAndGlyphs">1.8</text>
<line x1="669.40" y1="163.5" x2="669.40" y2="167.6" stroke="#222" stroke-width="1.1"/>
<text x="669.4" y="178.7" font-size="12.1" text-anchor="middle" fill="#1a1a1a" color="#1a1a1a" textLength="17.6" lengthAdjust="spacingAndGlyphs">2.2</text>
<text x="576.0" y="200.3" font-size="15" text-anchor="start" fill="#1a1a1a" color="#1a1a1a" textLength="30.1" lengthAdjust="spacingAndGlyphs">max</text>
<text x="607.3" y="200.3" font-size="15" text-anchor="start" fill="#1a1a1a" color="#1a1a1a">(</text>
<text x="613.8" y="200.3" font-size="15" text-anchor="start" fill="#1a1a1a" color="#1a1a1a" font-style="italic">d</text>
<text x="623.3" y="203.70000000000002" font-size="10" text-anchor="start" fill="#1a1a1a" color="#1a1a1a" font-style="italic">i</text>
<text x="622.7" y="190.9" font-size="9.5" text-anchor="start" fill="#1a1a1a" color="#1a1a1a" font-style="italic">θ</text>
<text x="628.7" y="192.3" font-size="7" text-anchor="start" fill="#1a1a1a" color="#1a1a1a" font-style="italic">j</text>
<text x="633.1" y="200.3" font-size="15" text-anchor="start" fill="#1a1a1a" color="#1a1a1a">)</text>
<text x="498.2" y="87.75" font-size="14.2" text-anchor="middle" fill="#1a1a1a" color="#1a1a1a" transform="rotate(-90 498.2 87.75)" textLength="123.7" lengthAdjust="spacingAndGlyphs">Propagation time</text>
<circle cx="681" cy="229.1" r="3.6" fill="#e8cb6c"/>
<circle cx="658.2" cy="267.2" r="3.6" fill="#e8cb6c"/>
<circle cx="641.4" cy="290.3" r="3.6" fill="#e8cb6c"/>
<circle cx="628.2" cy="305.5" r="3.6" fill="#e8cb6c"/>
<circle cx="617" cy="316.7" r="3.6" fill="#e8cb6c"/>
<circle cx="607.8" cy="325" r="3.6" fill="#e8cb6c"/>
<circle cx="600" cy="331.3" r="3.6" fill="#e8cb6c"/>
<circle cx="593.3" cy="336.8" r="3.6" fill="#e8cb6c"/>
<circle cx="587" cy="341" r="3.6" fill="#e8cb6c"/>
<circle cx="581.6" cy="344.4" r="3.6" fill="#e8cb6c"/>
<circle cx="576.7" cy="347.7" r="3.6" fill="#e8cb6c"/>
<circle cx="572.1" cy="350.1" r="3.6" fill="#e8cb6c"/>
<circle cx="567.8" cy="352.5" r="3.6" fill="#e8cb6c"/>
<circle cx="564" cy="354.1" r="3.6" fill="#e8cb6c"/>
<circle cx="561.64" cy="355.16" r="3.6" fill="#e8cb6c"/>
<circle cx="559.36" cy="356.19" r="3.6" fill="#e8cb6c"/>
<circle cx="557.16" cy="357.19" r="3.6" fill="#e8cb6c"/>
<circle cx="555.04" cy="358.15" r="3.6" fill="#e8cb6c"/>
<circle cx="553.0" cy="359.07" r="3.6" fill="#e8cb6c"/>
<circle cx="551.04" cy="359.95" r="3.6" fill="#e8cb6c"/>
<circle cx="549.17" cy="360.8" r="3.6" fill="#e8cb6c"/>
<circle cx="547.38" cy="361.61" r="3.6" fill="#e8cb6c"/>
<circle cx="545.67" cy="362.38" r="3.6" fill="#e8cb6c"/>
<circle cx="544.06" cy="363.1" r="3.6" fill="#e8cb6c"/>
<circle cx="542.54" cy="363.79" r="3.6" fill="#e8cb6c"/>
<circle cx="541.11" cy="364.44" r="3.6" fill="#e8cb6c"/>
<circle cx="539.78" cy="365.04" r="3.6" fill="#e8cb6c"/>
<circle cx="538.55" cy="365.59" r="3.6" fill="#e8cb6c"/>
<circle cx="537.42" cy="366.1" r="3.6" fill="#e8cb6c"/>
<circle cx="536.4" cy="366.56" r="3.6" fill="#e8cb6c"/>
<circle cx="535.5" cy="366.97" r="3.6" fill="#e8cb6c"/>
<circle cx="534.71" cy="367.33" r="3.6" fill="#e8cb6c"/>
<circle cx="534.05" cy="367.63" r="3.6" fill="#e8cb6c"/>
<circle cx="533.53" cy="367.86" r="3.6" fill="#e8cb6c"/>
<circle cx="533.16" cy="368.03" r="3.6" fill="#e8cb6c"/>
<circle cx="533.0" cy="368.1" r="3.6" fill="#e8cb6c"/>
<line x1="532" y1="377.8" x2="682" y2="255.5" stroke="#c8553a" stroke-width="1.9"/>
<line x1="525.3" y1="350.90" x2="530.2" y2="350.90" stroke="#222" stroke-width="1.1"/>
<text x="522.6" y="355.79999999999995" font-size="12.1" text-anchor="end" fill="#1a1a1a" color="#1a1a1a" textLength="17.6" lengthAdjust="spacingAndGlyphs">5.2</text>
<line x1="525.3" y1="317.50" x2="530.2" y2="317.50" stroke="#222" stroke-width="1.1"/>
<text x="522.6" y="322.4" font-size="12.1" text-anchor="end" fill="#1a1a1a" color="#1a1a1a" textLength="17.6" lengthAdjust="spacingAndGlyphs">5.4</text>
<line x1="525.3" y1="284.10" x2="530.2" y2="284.10" stroke="#222" stroke-width="1.1"/>
<text x="522.6" y="288.99999999999994" font-size="12.1" text-anchor="end" fill="#1a1a1a" color="#1a1a1a" textLength="17.6" lengthAdjust="spacingAndGlyphs">5.6</text>
<line x1="525.3" y1="250.70" x2="530.2" y2="250.70" stroke="#222" stroke-width="1.1"/>
<text x="522.6" y="255.6" font-size="12.1" text-anchor="end" fill="#1a1a1a" color="#1a1a1a" textLength="17.6" lengthAdjust="spacingAndGlyphs">5.8</text>
<line x1="545.80" y1="380.0" x2="545.80" y2="384.0" stroke="#222" stroke-width="1.1"/>
<text x="545.8" y="396.0" font-size="12.1" text-anchor="middle" fill="#1a1a1a" color="#1a1a1a" textLength="17.6" lengthAdjust="spacingAndGlyphs">0.6</text>
<line x1="604.20" y1="380.0" x2="604.20" y2="384.0" stroke="#222" stroke-width="1.1"/>
<text x="604.2" y="396.0" font-size="12.1" text-anchor="middle" fill="#1a1a1a" color="#1a1a1a" textLength="17.6" lengthAdjust="spacingAndGlyphs">0.7</text>
<line x1="662.60" y1="380.0" x2="662.60" y2="384.0" stroke="#222" stroke-width="1.1"/>
<text x="662.6" y="396.0" font-size="12.1" text-anchor="middle" fill="#1a1a1a" color="#1a1a1a" textLength="17.6" lengthAdjust="spacingAndGlyphs">0.8</text>
<text x="578.0" y="416.4" font-size="15" text-anchor="start" fill="#1a1a1a" color="#1a1a1a" textLength="26.5" lengthAdjust="spacingAndGlyphs">min</text>
<text x="604.2" y="416.4" font-size="15" text-anchor="start" fill="#1a1a1a" color="#1a1a1a">(</text>
<text x="610.7" y="416.4" font-size="15" text-anchor="start" fill="#1a1a1a" color="#1a1a1a" font-style="italic">d</text>
<text x="620.2" y="419.79999999999995" font-size="10" text-anchor="start" fill="#1a1a1a" color="#1a1a1a" font-style="italic">i</text>
<text x="619.6" y="407.0" font-size="9.5" text-anchor="start" fill="#1a1a1a" color="#1a1a1a" font-style="italic">θ</text>
<text x="625.6" y="408.4" font-size="7" text-anchor="start" fill="#1a1a1a" color="#1a1a1a" font-style="italic">j</text>
<text x="630.0" y="416.4" font-size="15" text-anchor="start" fill="#1a1a1a" color="#1a1a1a">)</text>
<text x="498.2" y="302.9" font-size="14.2" text-anchor="middle" fill="#1a1a1a" color="#1a1a1a" transform="rotate(-90 498.2 302.9)" textLength="123.7" lengthAdjust="spacingAndGlyphs">Propagation time</text>
</svg></body></html>
